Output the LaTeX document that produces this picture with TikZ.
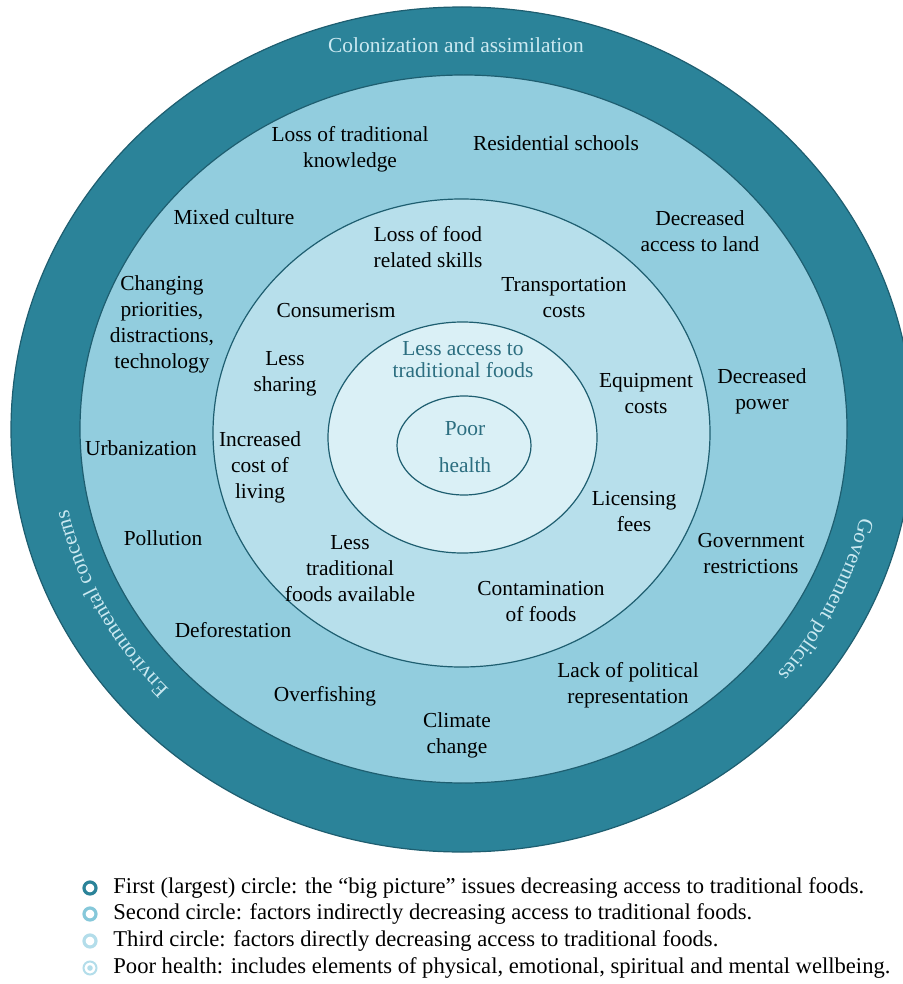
\documentclass[tikz,border=0pt]{standalone}
\usepackage{fontspec}
\setmainfont{Liberation Serif}
\usepackage{tikz}
\usetikzlibrary{positioning,decorations.text}
\definecolor{outerring}{HTML}{2B8399}
\definecolor{secondring}{HTML}{92CDDE}
\definecolor{thirdring}{HTML}{B7DFEB}
\definecolor{fourthring}{HTML}{DAF0F6}
\definecolor{ringline}{HTML}{1E5E70}
\definecolor{coretext}{HTML}{2C6E80}
\definecolor{ringtext}{HTML}{CBE9F1}
\definecolor{markmid}{HTML}{86C8DA}
\definecolor{marklight}{HTML}{B3DDEA}
\newcommand{\labelfont}{\fontsize{10.7}{13}\selectfont}
\newcommand{\legendfont}{\fontsize{11.3}{13}\selectfont}
\tikzset{
  ringedge/.style={draw=ringline, line width=0.6pt},
  factor/.style={align=center, text=black, font=\labelfont, inner sep=0pt, yshift=-1pt},
  corelabel/.style={factor, text=coretext},
  bandlabel/.style={factor, text=ringtext},
  legendmark/.style={circle, line width=1.6pt, minimum size=6pt, inner sep=0pt},
  legendtext/.style={font=\legendfont, text=black, anchor=west, inner sep=0pt,
    text height=1.5ex, text depth=0.3ex}
}

\begin{document}
\begin{tikzpicture}[x=0.5pt,y=-0.5pt]
\useasboundingbox (0,0) rectangle (903,984);

% rings
\begin{scope}
\clip (0,0) rectangle (903,984);
\filldraw[ringedge, fill=outerring] (462,429.5) ellipse [x radius=451, y radius=422.5];
\filldraw[ringedge, fill=secondring] (463.5,429) ellipse [x radius=383.5, y radius=354];
\filldraw[ringedge, fill=thirdring] (461.5,433) ellipse [x radius=248.5, y radius=234];
\filldraw[ringedge, fill=fourthring] (462.5,437.5) ellipse [x radius=134.5, y radius=115.5];
\filldraw[ringedge, fill=fourthring] (464,445.5) ellipse [x radius=67, y radius=49.5];
\end{scope}

% outer band
\node[bandlabel] (colonization) at (456,43) {Colonization and assimilation};
\path[decorate, decoration={text along path, text align=center, text color=ringtext,
  text={|\labelfont|Environmental concerns}}]
  (462,429.5) ++(-240:403 and 378) arc[start angle=-240, end angle=-175, x radius=403, y radius=378];
\path[decorate, decoration={text along path, text align=center, text color=ringtext,
  text={|\labelfont|Government policies}}]
  (462,429.5) ++(-6:409 and 384) arc[start angle=-6, end angle=58, x radius=409, y radius=384];

% second circle
\node[factor] (tradknow) at (350,147) {Loss of traditional\\knowledge};
\node[factor] (schools) at (556,141) {Residential schools};
\node[factor] (mixed) at (234,215) {Mixed culture};
\node[factor] (land) at (700,229) {Decreased\\access to land};
\node[factor] (priorities) at (162,322) {Changing\\priorities,\\distractions,\\technology};
\node[factor] (power) at (762,389) {Decreased\\power};
\node[factor] (urban) at (141,446) {Urbanization};
\node[factor] (pollution) at (163,536) {Pollution};
\node[factor] (govrestrict) at (751,552) {Government\\restrictions};
\node[factor] (deforest) at (233,628) {Deforestation};
\node[factor] (political) at (628,683) {Lack of political\\representation};
\node[factor] (overfish) at (325,694) {Overfishing};
\node[factor] (climate) at (457,733) {Climate\\change};

% third circle
\node[factor] (foodskills) at (428,245) {Loss of food\\related skills};
\node[factor] (transport) at (564,296) {Transportation\\costs};
\node[factor] (consumer) at (336,309) {Consumerism};
\node[factor] (sharing) at (285,372) {Less\\sharing};
\node[factor] (equipment) at (646,392) {Equipment\\costs};
\node[factor] (living) at (260,465) {Increased\\cost of\\living};
\node[factor] (licensing) at (634,510) {Licensing\\fees};
\node[factor] (available) at (350,567) {Less\\traditional\\foods available};
\node[factor] (contamination) at (541,600) {Contamination\\of foods};

% core
\node[corelabel, font=\fontsize{10.7}{11}\selectfont] (access) at (463,358) {Less access to\\traditional foods};
\node[corelabel, font=\fontsize{10.7}{18.5}\selectfont] (health) at (465,445) {Poor\\health};

% legend
\node[legendmark, draw=outerring] (mark1) at (90,888) {};
\node[legendmark, draw=markmid] (mark2) at (90,914) {};
\node[legendmark, draw=marklight] (mark3) at (90,941) {};
\node[legendmark, draw=marklight, line width=1pt, minimum size=6.5pt] (mark4) at (90,968) {};
\fill[marklight] (mark4.center) circle (1.4pt);
\node[legendtext] (leg1) at (113,888) {First (largest) circle: the “big picture” issues decreasing access to traditional foods.};
\node[legendtext] (leg2) at (113,914) {Second circle: factors indirectly decreasing access to traditional foods.};
\node[legendtext] (leg3) at (113,941) {Third circle: factors directly decreasing access to traditional foods.};
\node[legendtext] (leg4) at (113,968) {Poor health: includes elements of physical, emotional, spiritual and mental wellbeing.};
\end{tikzpicture}
\end{document}
